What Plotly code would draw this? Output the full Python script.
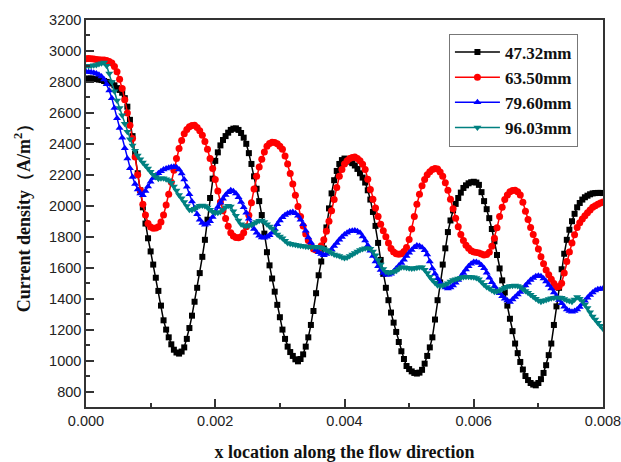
import plotly.graph_objects as go

# x positions (m), 201 samples at 0.00004 m spacing
x_vals = [round(i * 0.00004, 5) for i in range(201)]

series_names = ["47.32mm", "63.50mm", "79.60mm", "96.03mm"]

black_vals = [
    2820, 2822, 2822, 2820, 2818, 2815, 2812, 2806, 2800, 2795,
    2790, 2778, 2760, 2748, 2730, 2695, 2640, 2555, 2450, 2335,
    2210, 2100, 1990, 1885, 1790, 1705, 1620, 1535, 1450, 1355,
    1260, 1200, 1150, 1105, 1070, 1052, 1045, 1058, 1085, 1140,
    1210, 1290, 1380, 1470, 1565, 1670, 1780, 1910, 2050, 2175,
    2290, 2345, 2390, 2425, 2450, 2472, 2490, 2498, 2500, 2490,
    2470, 2440, 2400, 2340, 2270, 2190, 2110, 2030, 1940, 1820,
    1700, 1615, 1530, 1445, 1360, 1280, 1200, 1140, 1090, 1055,
    1030, 1008, 995, 1010, 1040, 1090, 1150, 1230, 1320, 1435,
    1551, 1640, 1724, 1860, 1983, 2080, 2165, 2225, 2270, 2295,
    2305, 2300, 2285, 2275, 2260, 2238, 2210, 2182, 2150, 2100,
    2040, 1960, 1870, 1760, 1650, 1560, 1470, 1390, 1310, 1245,
    1185, 1120, 1060, 1010, 965, 945, 930, 920, 916, 922,
    940, 980, 1030, 1085, 1150, 1265, 1390, 1505, 1620, 1725,
    1830, 1905, 1970, 2012, 2050, 2085, 2115, 2132, 2145, 2152,
    2155, 2150, 2135, 2088, 2030, 1978, 1920, 1850, 1770, 1682,
    1595, 1518, 1440, 1355, 1270, 1190, 1110, 1048, 991, 942,
    900, 874, 855, 845, 840, 855, 880, 920, 970, 1035,
    1110, 1230, 1350, 1470, 1590, 1690, 1780, 1845, 1900, 1948,
    1990, 2018, 2040, 2055, 2065, 2074, 2080, 2082, 2083, 2083,
    2082]

red_vals = [
    2950, 2952, 2950, 2948, 2945, 2944, 2942, 2941, 2938, 2932,
    2922, 2900, 2866, 2818, 2758, 2685, 2600, 2520, 2435, 2315,
    2200, 2100, 2010, 1940, 1885, 1862, 1855, 1856, 1865, 1895,
    1940, 2005, 2075, 2152, 2230, 2305, 2370, 2422, 2465, 2492,
    2510, 2518, 2520, 2506, 2485, 2455, 2415, 2365, 2305, 2240,
    2170, 2095, 2025, 1968, 1918, 1868, 1825, 1805, 1795, 1794,
    1800, 1825, 1865, 1938, 2020, 2108, 2190, 2250, 2300, 2348,
    2385, 2402, 2410, 2408, 2400, 2385, 2365, 2322, 2270, 2208,
    2140, 2068, 1995, 1930, 1870, 1818, 1775, 1742, 1720, 1714,
    1720, 1742, 1780, 1835, 1900, 1968, 2040, 2118, 2190, 2235,
    2270, 2290, 2305, 2312, 2315, 2306, 2290, 2268, 2235, 2172,
    2105, 2042, 1985, 1930, 1880, 1838, 1800, 1760, 1724, 1702,
    1690, 1686, 1690, 1705, 1730, 1782, 1850, 1930, 2010, 2075,
    2130, 2170, 2200, 2220, 2235, 2240, 2238, 2218, 2190, 2148,
    2100, 2042, 1980, 1920, 1865, 1815, 1775, 1745, 1725, 1710,
    1702, 1698, 1695, 1688, 1682, 1685, 1700, 1738, 1790, 1858,
    1930, 1990, 2040, 2070, 2090, 2098, 2100, 2090, 2069, 2022,
    1965, 1912, 1860, 1815, 1770, 1720, 1670, 1625, 1585, 1555,
    1525, 1498, 1475, 1478, 1500, 1565, 1640, 1702, 1760, 1812,
    1860, 1890, 1915, 1936, 1955, 1973, 1990, 2000, 2010, 2018,
    2025]

blue_vals = [
    2865, 2864, 2862, 2859, 2855, 2847, 2835, 2815, 2785, 2745,
    2695, 2632, 2565, 2502, 2440, 2372, 2305, 2242, 2185, 2140,
    2105, 2080, 2068, 2095, 2125, 2155, 2180, 2196, 2210, 2223,
    2235, 2240, 2245, 2250, 2252, 2248, 2235, 2208, 2170, 2122,
    2075, 2028, 1985, 1945, 1910, 1888, 1878, 1884, 1900, 1928,
    1961, 1992, 2020, 2046, 2069, 2088, 2100, 2094, 2080, 2055,
    2025, 1990, 1955, 1916, 1880, 1850, 1825, 1806, 1795, 1794,
    1800, 1810, 1825, 1850, 1880, 1904, 1925, 1940, 1950, 1957,
    1960, 1952, 1935, 1910, 1880, 1838, 1795, 1762, 1735, 1715,
    1700, 1688, 1681, 1688, 1700, 1718, 1740, 1760, 1780, 1798,
    1815, 1826, 1835, 1839, 1840, 1835, 1825, 1802, 1775, 1744,
    1710, 1675, 1640, 1610, 1585, 1566, 1555, 1554, 1560, 1575,
    1595, 1612, 1630, 1652, 1675, 1696, 1715, 1732, 1743, 1740,
    1730, 1712, 1685, 1640, 1595, 1560, 1530, 1505, 1485, 1472,
    1465, 1472, 1485, 1502, 1520, 1542, 1565, 1588, 1610, 1626,
    1637, 1636, 1630, 1616, 1597, 1568, 1535, 1506, 1480, 1456,
    1435, 1416, 1400, 1388, 1379, 1395, 1410, 1426, 1443, 1464,
    1485, 1503, 1520, 1534, 1545, 1548, 1545, 1530, 1510, 1488,
    1465, 1440, 1415, 1392, 1370, 1348, 1330, 1320, 1315, 1320,
    1330, 1346, 1365, 1386, 1405, 1424, 1440, 1452, 1460, 1463,
    1465]

teal_vals = [
    2905, 2903, 2905, 2908, 2910, 2915, 2920, 2925, 2905, 2855,
    2800, 2740, 2680, 2632, 2585, 2530, 2478, 2430, 2390, 2355,
    2325, 2300, 2280, 2260, 2240, 2220, 2200, 2185, 2175, 2178,
    2177, 2172, 2165, 2148, 2125, 2098, 2070, 2048, 2025, 1998,
    1975, 1972, 1980, 1992, 2000, 2002, 1998, 1988, 1975, 1962,
    1955, 1955, 1960, 1975, 1990, 2000, 1995, 1965, 1935, 1905,
    1880, 1872, 1870, 1872, 1875, 1885, 1895, 1903, 1905, 1895,
    1880, 1866, 1853, 1833, 1815, 1802, 1790, 1774, 1760, 1755,
    1752, 1748, 1745, 1742, 1740, 1737, 1735, 1736, 1735, 1736,
    1734, 1730, 1722, 1714, 1705, 1695, 1685, 1680, 1675, 1668,
    1662, 1666, 1675, 1685, 1695, 1705, 1715, 1721, 1725, 1725,
    1722, 1705, 1680, 1650, 1620, 1592, 1573, 1568, 1570, 1574,
    1580, 1592, 1603, 1602, 1600, 1597, 1595, 1597, 1600, 1602,
    1603, 1586, 1565, 1542, 1520, 1502, 1487, 1484, 1485, 1492,
    1500, 1510, 1520, 1525, 1530, 1535, 1540, 1541, 1542, 1540,
    1538, 1533, 1525, 1508, 1490, 1476, 1465, 1454, 1445, 1446,
    1452, 1462, 1470, 1477, 1482, 1484, 1485, 1481, 1475, 1463,
    1450, 1438, 1425, 1412, 1400, 1388, 1380, 1386, 1392, 1397,
    1402, 1406, 1408, 1407, 1405, 1398, 1390, 1384, 1380, 1395,
    1410, 1400, 1385, 1362, 1340, 1312, 1285, 1265, 1245, 1225,
    1205]

y_tick_vals = list(range(800, 3201, 200))
x_tick_vals = [0.0, 0.002, 0.004, 0.006, 0.008]
x_tick_text = ["0.000", "0.002", "0.004", "0.006", "0.008"]

styles = [
    dict(color="#000000", symbol="square", size=6),
    dict(color="#ff0000", symbol="circle", size=7),
    dict(color="#0000ff", symbol="triangle-up", size=7),
    dict(color="#008080", symbol="triangle-down", size=7),
]

fig = go.Figure()
for name, vals, st in zip(series_names, [black_vals, red_vals, blue_vals, teal_vals], styles):
    fig.add_trace(go.Scatter(
        x=x_vals, y=vals, name=name, mode="lines+markers",
        line=dict(color=st["color"], width=1.5),
        marker=dict(symbol=st["symbol"], size=st["size"], color=st["color"],
                    line=dict(width=0)),
    ))

axis_font = dict(family="Arial, Liberation Sans, sans-serif", size=14.5, color="#222222")
title_font = dict(family="Times New Roman, Liberation Serif, serif", size=18, color="#111111")

fig.update_layout(
    width=621, height=462,
    margin=dict(l=86, r=18, t=20, b=55),
    paper_bgcolor="white", plot_bgcolor="white",
    showlegend=True,
    legend=dict(
        x=0.702, y=0.965, xanchor="left", yanchor="top",
        bgcolor="white", bordercolor="#777777", borderwidth=1,
        font=dict(family="Times New Roman, Liberation Serif, serif", size=17,
                  color="#111111", weight="bold"),
        tracegroupgap=0, itemwidth=45,
    ),
    xaxis=dict(
        range=[0, 0.008], tickvals=x_tick_vals, ticktext=x_tick_text,
        ticklabeloverflow="allow", automargin=False,
        showgrid=False, zeroline=False,
        showline=True, linecolor="#333333", linewidth=1.5, mirror=True,
        ticks="inside", ticklen=8, tickwidth=1.5, tickcolor="#333333",
        minor=dict(dtick=0.001, ticks="inside", ticklen=4, tickwidth=1.5, tickcolor="#333333", showgrid=False),
        tickfont=axis_font,
        title=dict(text="<b>x location along the flow direction</b>", font=title_font, standoff=19),
    ),
    yaxis=dict(
        range=[700, 3200], tickvals=y_tick_vals, automargin=False,
        showgrid=False, zeroline=False,
        showline=True, linecolor="#333333", linewidth=1.5, mirror=True,
        ticks="inside", ticklen=8, tickwidth=1.5, tickcolor="#333333",
        minor=dict(dtick=100, ticks="inside", ticklen=4, tickwidth=1.5, tickcolor="#333333", showgrid=False),
        tickfont=axis_font,
        title=dict(text="<b>Current density（A/m<sup>2</sup>）</b>", font=title_font, standoff=14),
    ),
)

fig.write_html("out.html")
